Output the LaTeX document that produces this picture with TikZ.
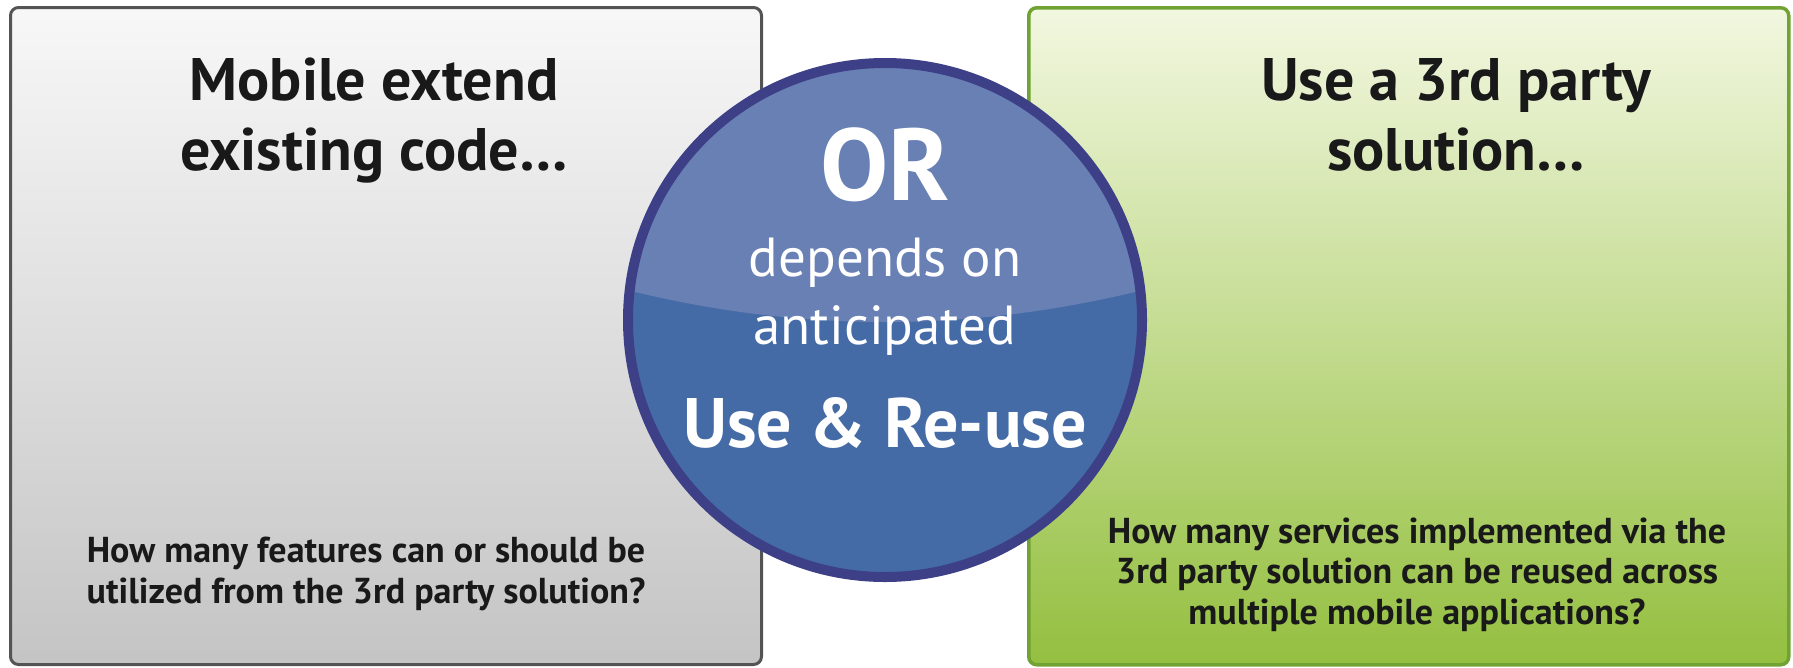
\documentclass[tikz,border=0pt]{standalone}
\usepackage{fontspec}
\setmainfont{PT Sans}
\usepackage{tikz}
\usetikzlibrary{positioning}
\definecolor{greyline}{rgb}{0.33,0.33,0.33}
\definecolor{greytop}{rgb}{0.97,0.97,0.97}
\definecolor{greybot}{rgb}{0.77,0.77,0.77}
\definecolor{greenline}{rgb}{0.44,0.64,0.20}
\definecolor{greentop}{rgb}{0.95,0.97,0.88}
\definecolor{greenbot}{rgb}{0.58,0.75,0.25}
\definecolor{ringblue}{rgb}{0.24,0.25,0.53}
\definecolor{lightblue}{rgb}{0.41,0.50,0.71}
\definecolor{darkblue}{rgb}{0.27,0.42,0.65}
\definecolor{ink}{rgb}{0.10,0.10,0.10}
\tikzstyle{gb}=[%
      rectangle, rounded corners=8pt, draw=greyline, line width=3pt,
      top color=greytop, bottom color=greybot,
      minimum width=751pt, minimum height=657pt, inner sep=0pt
]
\tikzstyle{grb}=[%
      rectangle, rounded corners=8pt, draw=greenline, line width=3.5pt,
      top color=greentop, bottom color=greenbot,
      minimum width=760pt, minimum height=657pt, inner sep=0pt
]
\tikzstyle{ring}=[%
      circle, draw=ringblue, line width=10pt, fill=none,
      minimum size=514pt, inner sep=0pt
]
\tikzstyle{hd}=[%
      font=\fontsize{60}{70}\selectfont\bfseries, text=ink, align=center, anchor=base
]
\tikzstyle{qu}=[%
      font=\fontsize{36}{41}\selectfont\bfseries, text=ink, align=center, anchor=base
]
\tikzstyle{wt}=[text=white, anchor=base, inner sep=0pt]

\begin{document}
\begin{tikzpicture}[x=1pt, y=-1pt]
    \useasboundingbox (0,0) rectangle (1793,667);

    \node[gb, anchor=north west]  (left)  at (9,6)    {};
    \node[grb, anchor=north west] (right) at (1027,6) {};

    % base = last line
    \node[hd] (lhead) at (374,170)  {Mobile extend\\existing code…};
    \node[hd] (rhead) at (1456,170) {Use a 3rd party\\solution…};
    \node[qu] (lq) at (366,603)
        {How many features can or should be\\utilized from the 3rd party solution?};
    \node[qu, font=\fontsize{36}{40.5}\selectfont\bfseries] (rq) at (1417,624)
        {How many services implemented via the\\3rd party solution can be reused across\\multiple mobile applications?};

    % two-tone disc
    \fill[darkblue] (885,320) circle (257pt);
    \begin{scope}
      \clip (885,320) circle (257pt);
      \fill[lightblue] (623,289) -- (623,50) -- (1147,50) -- (1147,289)
          .. controls (972.3,333) and (797.7,333) .. (623,289);
    \end{scope}
    \node[ring] (disc) at (885,320) {};

    \node[wt, font=\fontsize{102}{102}\selectfont\bfseries] (or)  at (885,200) {OR};
    \node[wt, font=\fontsize{55}{55}\selectfont]            (dep) at (885,276) {depends on};
    \node[wt, font=\fontsize{55}{55}\selectfont]            (ant) at (885,344) {anticipated};
    \node[wt, font=\fontsize{70}{70}\selectfont\bfseries]  (use) at (885,447) {Use \& Re-use};
\end{tikzpicture}
\end{document}
